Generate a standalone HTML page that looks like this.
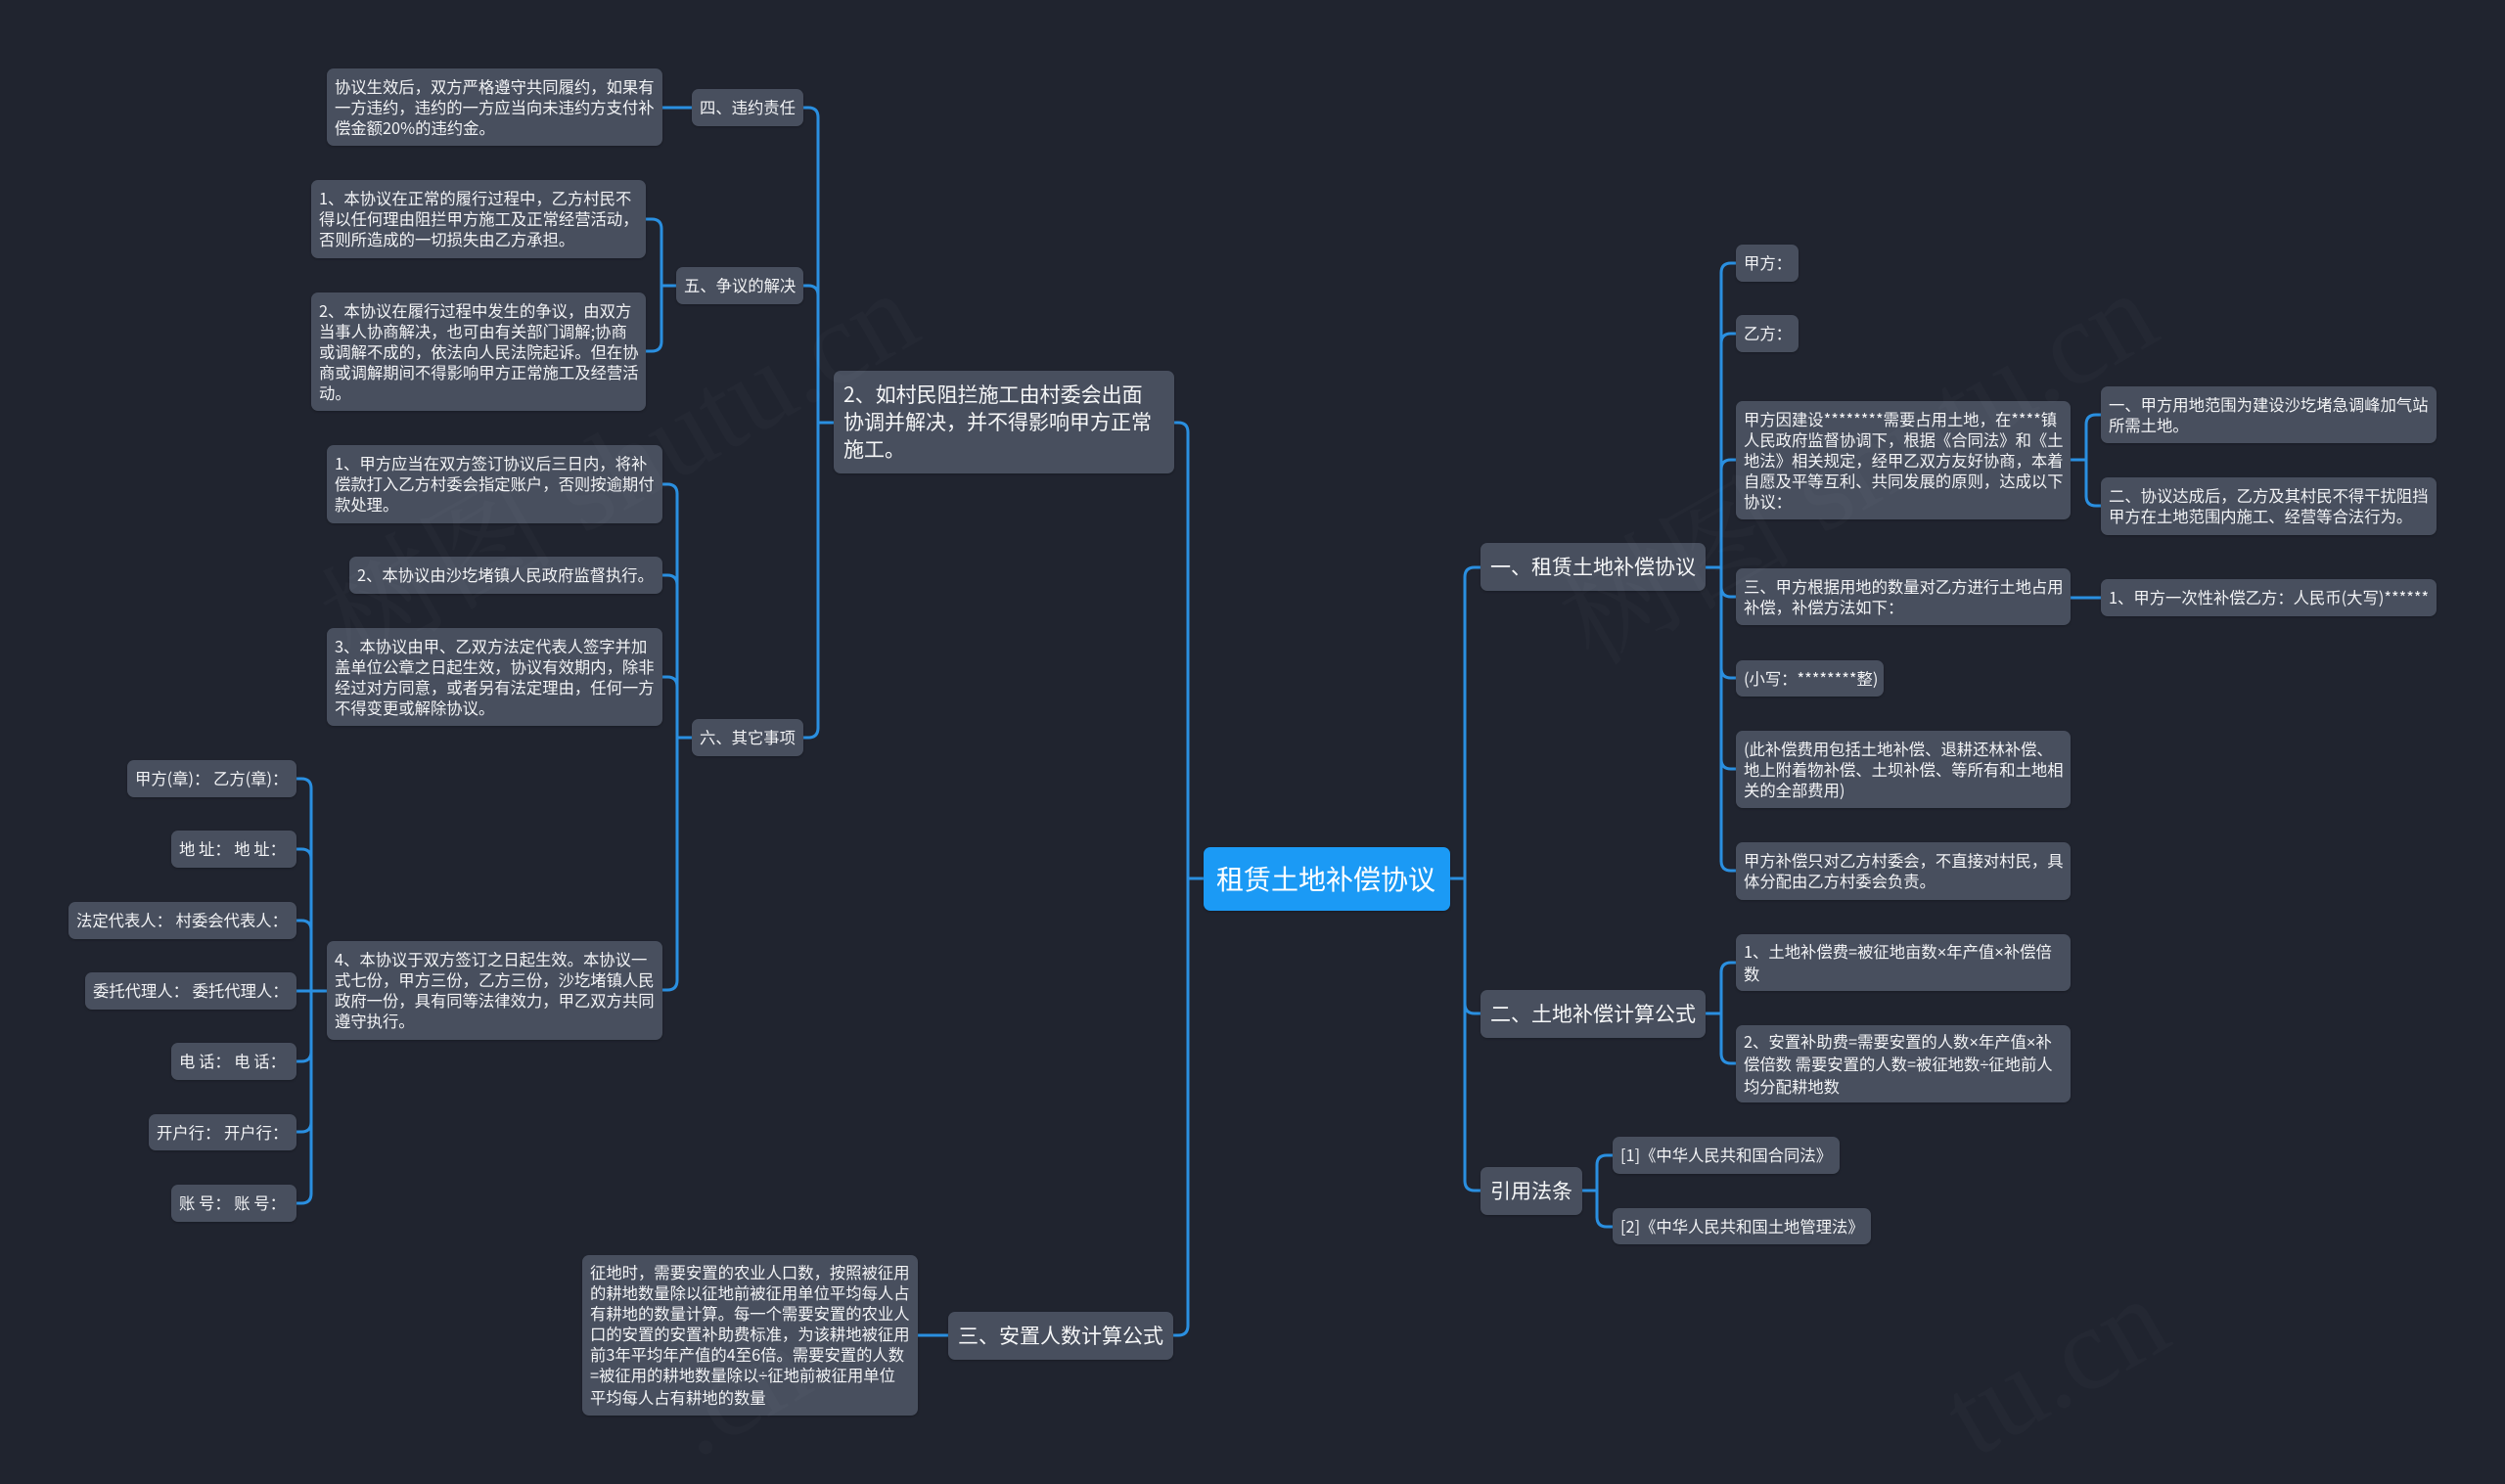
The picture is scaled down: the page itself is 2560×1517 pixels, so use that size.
<!DOCTYPE html>
<html lang="zh"><head><meta charset="utf-8"><title>租赁土地补偿协议</title>
<style>
html,body{margin:0;padding:0;background:#20242f;}
#c{position:relative;width:2560px;height:1517px;overflow:hidden;background:#20242f;font-family:"Noto Sans CJK SC","Liberation Sans",sans-serif;color:#f2f3f5;}
svg{position:absolute;left:0;top:0}
.n{position:absolute;box-sizing:border-box;background:#484f5e;border-radius:7px;display:flex;align-items:center;padding:0 8px 1px;font-size:16.33px;line-height:21px;white-space:nowrap;box-shadow:0 1px 2px rgba(0,0,0,.25)}
.l{font-size:21px;line-height:28px;padding:0 10px 2px;color:#f5f6f7}
.r{font-size:28px;line-height:36px;padding:0 13px 2px;background:#1b9af5;color:#fff}
i{font-style:normal;font-family:"Liberation Sans",sans-serif}
</style></head><body><div id="c">
<svg width="2560" height="1517" fill="none" stroke="#2a8fe0" stroke-width="3" stroke-linecap="round">
<path d="M1482 898H1497M1497 590V1207"/>
<path d="M1497 590Q1497 580 1507 580H1513"/>
<path d="M1497 1026Q1497 1036 1507 1036H1513"/>
<path d="M1497 1207Q1497 1217 1507 1217H1513"/>
<path d="M1230 898H1214M1214 442V1355"/>
<path d="M1200 432H1204Q1214 432 1214 442"/>
<path d="M1199 1365H1204Q1214 1365 1214 1355"/>
<path d="M1743 580H1759M1759 279V880"/>
<path d="M1774 269H1769Q1759 269 1759 279"/>
<path d="M1774 341H1769Q1759 341 1759 351"/>
<path d="M1774 470H1769Q1759 470 1759 480"/>
<path d="M1774 610H1769Q1759 610 1759 600"/>
<path d="M1774 693H1769Q1759 693 1759 683"/>
<path d="M1774 786H1769Q1759 786 1759 776"/>
<path d="M1774 890H1769Q1759 890 1759 880"/>
<path d="M2116 470H2132M2132 434V507"/>
<path d="M2147 424H2142Q2132 424 2132 434"/>
<path d="M2147 517H2142Q2132 517 2132 507"/>
<path d="M2116 611H2147"/>
<path d="M1743 1036H1759M1759 994V1077"/>
<path d="M1774 984H1769Q1759 984 1759 994"/>
<path d="M1774 1087H1769Q1759 1087 1759 1077"/>
<path d="M1617 1217H1632M1632 1191V1244"/>
<path d="M1648 1181H1642Q1632 1181 1632 1191"/>
<path d="M1648 1254H1642Q1632 1254 1632 1244"/>
<path d="M852 432H836M836 120V744"/>
<path d="M821 110H826Q836 110 836 120"/>
<path d="M821 292H826Q836 292 836 302"/>
<path d="M821 754H826Q836 754 836 744"/>
<path d="M677 110H707"/>
<path d="M691 292H676M676 234V349"/>
<path d="M660 224H666Q676 224 676 234"/>
<path d="M660 359H666Q676 359 676 349"/>
<path d="M707 754H692M692 505V1002"/>
<path d="M677 495H682Q692 495 692 505"/>
<path d="M677 588H682Q692 588 692 598"/>
<path d="M677 692H682Q692 692 692 702"/>
<path d="M677 1012H682Q692 1012 692 1002"/>
<path d="M334 1013H318M318 806V1220"/>
<path d="M303 796H308Q318 796 318 806"/>
<path d="M303 868H308Q318 868 318 878"/>
<path d="M303 941H308Q318 941 318 951"/>
<path d="M303 1013H318"/>
<path d="M303 1085H308Q318 1085 318 1075"/>
<path d="M303 1157H308Q318 1157 318 1147"/>
<path d="M303 1230H308Q318 1230 318 1220"/>
<path d="M938 1365H969"/>
</svg>

<div class="n r" style="left:1230px;top:866px;width:252px;height:65px">租赁土地补偿协议</div>

<div class="n l" style="left:1513px;top:555px;width:230px;height:49px">一、租赁土地补偿协议</div>
<div class="n l" style="left:1513px;top:1012px;width:230px;height:49px">二、土地补偿计算公式</div>
<div class="n l" style="left:1513px;top:1193px;width:104px;height:49px">引用法条</div>
<div class="n l" style="left:852px;top:379px;width:348px;height:105px"><span>2、如村民阻拦施工由村委会出面<br>协调并解决，并不得影响甲方正常<br>施工。</span></div>
<div class="n l" style="left:969px;top:1341px;width:230px;height:49px">三、安置人数计算公式</div>

<div class="n" style="left:1774px;top:250px;width:64px;height:38px">甲方：</div>
<div class="n" style="left:1774px;top:322px;width:64px;height:38px">乙方：</div>
<div class="n" style="left:1774px;top:410px;width:342px;height:121px"><span>甲方因建设********需要占用土地，在****镇<br>人民政府监督协调下，根据《合同法》和《土<br>地法》相关规定，经甲乙双方友好协商，本着<br>自愿及平等互利、共同发展的原则，达成以下<br>协议：</span></div>
<div class="n" style="left:1774px;top:581px;width:342px;height:58px"><span>三、甲方根据用地的数量对乙方进行土地占用<br>补偿，补偿方法如下：</span></div>
<div class="n" style="left:1774px;top:675px;width:151px;height:37px">(小写：********整)</div>
<div class="n" style="left:1774px;top:747px;width:342px;height:79px"><span>(此补偿费用包括土地补偿、退耕还林补偿、<br>地上附着物补偿、土坝补偿、等所有和土地相<br>关的全部费用)</span></div>
<div class="n" style="left:1774px;top:861px;width:342px;height:59px"><span>甲方补偿只对乙方村委会，不直接对村民，具<br>体分配由乙方村委会负责。</span></div>

<div class="n" style="left:2147px;top:395px;width:343px;height:58px"><span>一、甲方用地范围为建设沙圪堵急调峰加气站<br>所需土地。</span></div>
<div class="n" style="left:2147px;top:488px;width:343px;height:59px"><span>二、协议达成后，乙方及其村民不得干扰阻挡<br>甲方在土地范围内施工、经营等合法行为。</span></div>
<div class="n" style="left:2147px;top:592px;width:343px;height:38px">1、甲方一次性补偿乙方：人民币(大写)******</div>

<div class="n" style="left:1774px;top:955px;width:342px;height:58px"><span>1、土地补偿费=被征地亩数<i>×</i>年产值<i>×</i>补偿倍<br>数</span></div>
<div class="n" style="left:1774px;top:1048px;width:342px;height:79px"><span>2、安置补助费=需要安置的人数<i>×</i>年产值<i>×</i>补<br>偿倍数 需要安置的人数=被征地数<i>÷</i>征地前人<br>均分配耕地数</span></div>

<div class="n" style="left:1648px;top:1162px;width:232px;height:38px">[1]《中华人民共和国合同法》</div>
<div class="n" style="left:1648px;top:1235px;width:264px;height:37px">[2]《中华人民共和国土地管理法》</div>

<div class="n" style="left:707px;top:91px;width:114px;height:38px">四、违约责任</div>
<div class="n" style="left:691px;top:273px;width:130px;height:38px">五、争议的解决</div>
<div class="n" style="left:707px;top:735px;width:114px;height:38px">六、其它事项</div>

<div class="n" style="left:334px;top:70px;width:343px;height:79px"><span>协议生效后，双方严格遵守共同履约，如果有<br>一方违约，违约的一方应当向未违约方支付补<br>偿金额20%的违约金。</span></div>
<div class="n" style="left:318px;top:184px;width:342px;height:80px"><span>1、本协议在正常的履行过程中，乙方村民不<br>得以任何理由阻拦甲方施工及正常经营活动，<br>否则所造成的一切损失由乙方承担。</span></div>
<div class="n" style="left:318px;top:299px;width:342px;height:121px"><span>2、本协议在履行过程中发生的争议，由双方<br>当事人协商解决，也可由有关部门调解;协商<br>或调解不成的，依法向人民法院起诉。但在协<br>商或调解期间不得影响甲方正常施工及经营活<br>动。</span></div>
<div class="n" style="left:334px;top:455px;width:343px;height:80px"><span>1、甲方应当在双方签订协议后三日内，将补<br>偿款打入乙方村委会指定账户，否则按逾期付<br>款处理。</span></div>
<div class="n" style="left:357px;top:569px;width:320px;height:38px">2、本协议由沙圪堵镇人民政府监督执行。</div>
<div class="n" style="left:334px;top:642px;width:343px;height:100px"><span>3、本协议由甲、乙双方法定代表人签字并加<br>盖单位公章之日起生效，协议有效期内，除非<br>经过对方同意，或者另有法定理由，任何一方<br>不得变更或解除协议。</span></div>
<div class="n" style="left:334px;top:962px;width:343px;height:101px"><span>4、本协议于双方签订之日起生效。本协议一<br>式七份，甲方三份，乙方三份，沙圪堵镇人民<br>政府一份，具有同等法律效力，甲乙双方共同<br>遵守执行。</span></div>

<div class="n" style="left:130px;top:777px;width:173px;height:38px">甲方(章)： 乙方(章)：</div>
<div class="n" style="left:175px;top:849px;width:128px;height:38px">地 址： 地 址：</div>
<div class="n" style="left:70px;top:922px;width:233px;height:38px">法定代表人： 村委会代表人：</div>
<div class="n" style="left:87px;top:994px;width:216px;height:38px">委托代理人： 委托代理人：</div>
<div class="n" style="left:175px;top:1066px;width:128px;height:38px">电 话： 电 话：</div>
<div class="n" style="left:152px;top:1139px;width:151px;height:37px">开户行： 开户行：</div>
<div class="n" style="left:175px;top:1211px;width:128px;height:38px">账 号： 账 号：</div>

<div class="n" style="left:595px;top:1283px;width:343px;height:164px"><span>征地时，需要安置的农业人口数，按照被征用<br>的耕地数量除以征地前被征用单位平均每人占<br>有耕地的数量计算。每一个需要安置的农业人<br>口的安置的安置补助费标准，为该耕地被征用<br>前3年平均年产值的4至6倍。需要安置的人数<br>=被征用的耕地数量除以<i>÷</i>征地前被征用单位<br>平均每人占有耕地的数量</span></div>

<svg width="2560" height="1517" style="pointer-events:none" font-family="'Liberation Serif','Noto Serif CJK SC',serif" font-size="120" text-anchor="end" fill="#ffffff" fill-opacity=".018">
<text transform="translate(945 345) rotate(-30)">树图 shutu.cn</text>
<text transform="translate(2211 345) rotate(-30)">树图 shutu.cn</text>
<text transform="translate(2223 1373) rotate(-30)">tu.cn</text>
<text transform="translate(835 1420) rotate(-30)">.cn</text>
</svg>
</div></body></html>
